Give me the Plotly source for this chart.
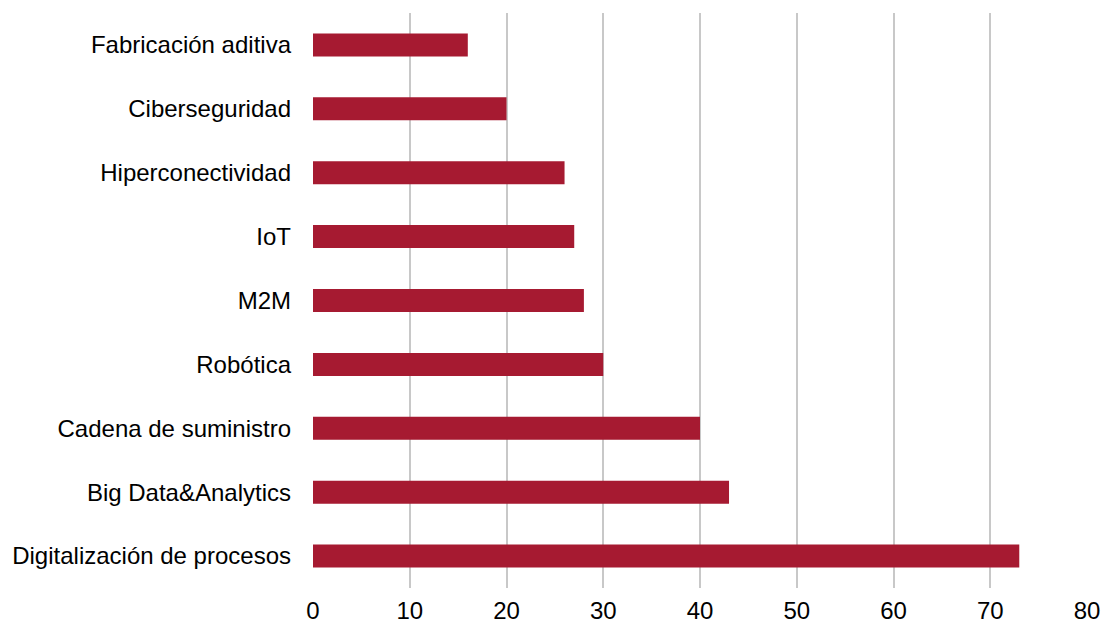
import plotly.graph_objects as go

categories = ["Digitalización de procesos", "Big Data&Analytics", "Cadena de suministro",
              "Robótica", "M2M", "IoT", "Hiperconectividad", "Ciberseguridad",
              "Fabricación aditiva"]
values = [73, 43, 40, 30, 28, 27, 26, 20, 16]
x_ticks = [0, 10, 20, 30, 40, 50, 60, 70, 80]

fig = go.Figure(go.Bar(
    y=categories, x=values, orientation="h",
    marker=dict(color="#A61A31", line=dict(width=0)),
    width=0.36,
))

font = dict(family="Liberation Sans, Arial, sans-serif", size=24, color="#000000")

fig.update_layout(
    width=1102, height=626,
    margin=dict(l=313, r=15, t=13, b=38),
    paper_bgcolor="white", plot_bgcolor="white",
    font=font,
    showlegend=False,
    bargap=0.64,
)
fig.update_xaxes(
    range=[0, 80], tickvals=x_ticks, showgrid=True, gridcolor="#C8C8C8", gridwidth=2,
    zeroline=False, showline=False, ticks="", ticklabelstandoff=6, automargin=False,
    tickfont=font,
)
fig.update_yaxes(
    categoryorder="array", categoryarray=categories, showgrid=False, zeroline=False,
    showline=False, ticks="", ticklabelstandoff=21, automargin=False, tickfont=font,
)

fig.write_html("out.html")
